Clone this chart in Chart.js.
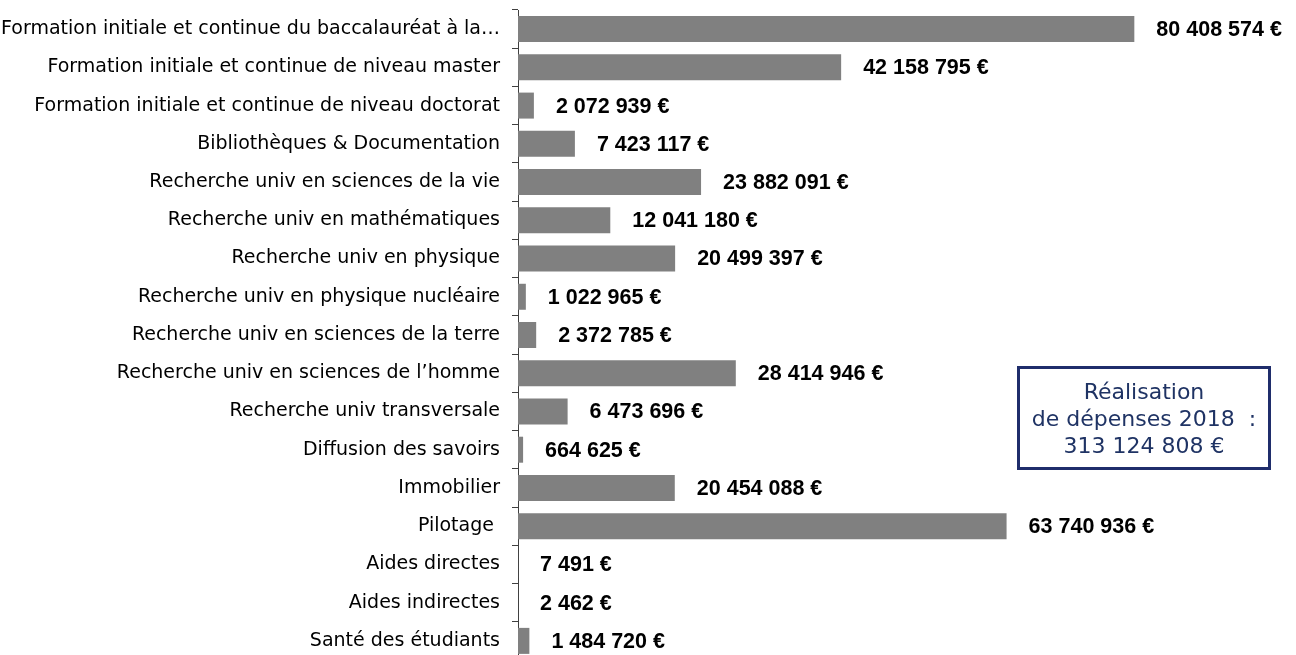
<!DOCTYPE html>
<html lang="fr">
<head>
<meta charset="utf-8">
<script src="https://cdn.jsdelivr.net/npm/chart.js@4/dist/chart.umd.min.js"></script>
<style>
  html, body { margin: 0; padding: 0; background: #fff; overflow: hidden; }
  #wrap { position: absolute; left: 0; top: 0; width: 1296px; height: 672px; }
  #total {
    position: absolute; left: 1017px; top: 366px; width: 248px; height: 98px;
    border: 3px solid #1f2d6b; color: #1f3364;
    font: 22px "DejaVu Sans", sans-serif; line-height: 27px;
    text-align: center; box-sizing: content-box;
    display: flex; flex-direction: column; justify-content: center;
  }
</style>
</head>
<body>
<div id="wrap">
  <canvas id="depenses" width="1296" height="672"></canvas>
  <div id="total"><span>Réalisation</span><span>de dépenses 2018 &nbsp;:</span><span>313 124 808 €</span></div>
</div>
<script>
// destinations de dépenses
const categories = [
  "Formation initiale et continue du baccalauréat à la…",
  "Formation initiale et continue de niveau master",
  "Formation initiale et continue de niveau doctorat",
  "Bibliothèques & Documentation",
  "Recherche univ en sciences de la vie",
  "Recherche univ en mathématiques",
  "Recherche univ en physique",
  "Recherche univ en physique nucléaire",
  "Recherche univ en sciences de la terre",
  "Recherche univ en sciences de l’homme",
  "Recherche univ transversale",
  "Diffusion des savoirs",
  "Immobilier",
  "Pilotage ",
  "Aides directes",
  "Aides indirectes",
  "Santé des étudiants"
];

// montants réalisés en euros
const montants = [
  80408574, 42158795, 2072939, 7423117, 23882091, 12041180, 20499397,
  1022965, 2372785, 28414946, 6473696, 664625, 20454088, 63740936,
  7491, 2462, 1484720
];

function euros(v) {
  return String(v).replace(/\B(?=(\d{3})+(?!\d))/g, " ") + " €";
}

// étiquettes de valeur à droite des barres
const valeurs = {
  id: "valeurs",
  afterDatasetsDraw(chart) {
    const ctx = chart.ctx;
    const meta = chart.getDatasetMeta(0);
    ctx.save();
    ctx.font = "bold 21.5px 'Liberation Sans', Arial, sans-serif";
    ctx.fillStyle = "#000";
    ctx.textAlign = "left";
    ctx.textBaseline = "middle";
    meta.data.forEach((bar, i) => {
      ctx.fillText(euros(montants[i]), bar.x + 22, bar.y + 1);
    });
    ctx.restore();
  }
};

new Chart(document.getElementById("depenses").getContext("2d"), {
  type: "bar",
  data: {
    labels: categories,
    datasets: [{
      data: montants,
      backgroundColor: "#808080",
      borderWidth: 0,
      barPercentage: 0.68,
      categoryPercentage: 1
    }]
  },
  options: {
    indexAxis: "y",
    responsive: false,
    devicePixelRatio: 1,
    animation: false,
    layout: { padding: { top: 10, bottom: 12, right: 0, left: 0 } },
    scales: {
      x: { display: false, min: 0, max: 101500000 },
      y: {
        afterFit: (scale) => {
          // largeur fixe pour les libellés, sans marge verticale ajoutée
          scale.width = 518;
          scale.paddingTop = 0;
          scale.paddingBottom = 0;
        },
        grid: {
          offset: true,
          drawOnChartArea: false,
          drawTicks: true,
          tickLength: 6,
          color: "#404040"
        },
        border: { display: true, color: "#404040", width: 1 },
        ticks: {
          padding: 12,
          color: "#000",
          autoSkip: false,
          font: { family: "'DejaVu Sans', sans-serif", size: 19 }
        }
      }
    },
    plugins: {
      legend: { display: false },
      tooltip: { enabled: false }
    }
  },
  plugins: [valeurs]
});
</script>
</body>
</html>
